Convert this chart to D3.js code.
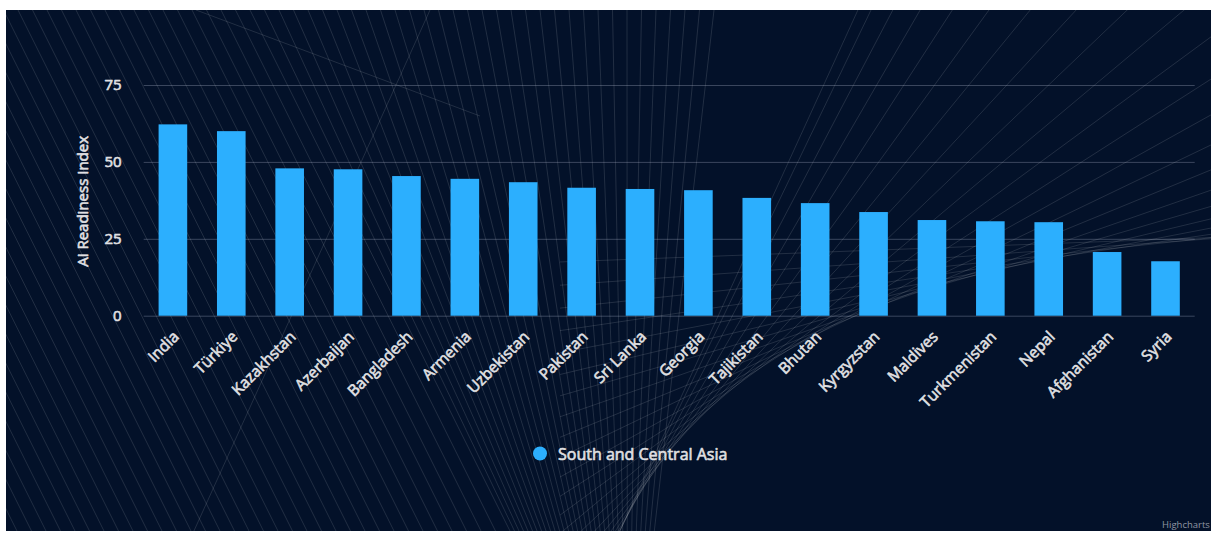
<!DOCTYPE html>
<html>
<head>
<meta charset="utf-8">
<script src="https://cdn.jsdelivr.net/npm/d3@7"></script>
<style>
  html, body { margin: 0; padding: 0; background: #ffffff; }
  svg { display: block; }
  text { font-family: "Open Sans", Lato, sans-serif; }
</style>
</head>
<body>
<svg id="chart" width="1216" height="533"></svg>
<script>
// AI readiness by country, South and Central Asia
const categories = ["India", "Türkiye", "Kazakhstan", "Azerbaijan", "Bangladesh", "Armenia",
  "Uzbekistan", "Pakistan", "Sri Lanka", "Georgia", "Tajikistan", "Bhutan", "Kyrgyzstan",
  "Maldives", "Turkmenistan", "Nepal", "Afghanistan", "Syria"];
const values = [62.2, 60.0, 47.9, 47.6, 45.4, 44.5, 43.4, 41.6, 41.2, 40.8, 38.3, 36.6,
  33.7, 31.1, 30.7, 30.4, 20.7, 17.7];
const yTicks = [0, 25, 50, 75];
const seriesName = "South and Central Asia";
const yTitle = "Ai Readiness Index";

const svg = d3.select("#chart");
const frame = { x: 6, y: 10, w: 1205, h: 521 };
const plot = { left: 143.7, right: 1194.7, top: 85, bottom: 315.7 };
const barColor = "#2caffe";
const textColor = "#e0e0e3";
const font = "'Open Sans', Lato, sans-serif";

// medium-weight text: regular face with a hairline outline in the same colour
function styleText(sel, size) {
  sel.attr("fill", textColor).attr("font-size", size).attr("font-weight", 400)
    .attr("font-family", font)
    .attr("stroke", textColor).attr("stroke-width", 0.6).attr("stroke-linejoin", "round");
}

// Dark panel
svg.append("defs").append("clipPath").attr("id", "frameClip")
  .append("rect").attr("x", frame.x).attr("y", frame.y).attr("width", frame.w).attr("height", frame.h);
svg.append("rect").attr("x", frame.x).attr("y", frame.y).attr("width", frame.w).attr("height", frame.h)
  .attr("fill", "#031129");

// Decorative string-art backdrop
const deco = svg.append("g").attr("clip-path", "url(#frameClip)")
  .attr("stroke", "#ffffff").attr("stroke-opacity", 0.12).attr("stroke-width", 1).attr("fill", "none");

// slanted family on the left, drawing together toward the bottom centre
for (let u = -330; u <= 720; u += 14.5) {
  const xb = u <= 250 ? u + 260 : 510 + 0.311 * (u - 250);
  deco.append("line").attr("x1", u).attr("y1", frame.y).attr("x2", xb).attr("y2", frame.y + frame.h);
}

// tangents to a quadratic curve sweeping up to the right edge
const P0 = [619, 533], P1 = [746, 255], P2 = [1280, 235];
const nTan = 22;
for (let i = 0; i <= nTan; i++) {
  const t = Math.pow(i / nTan, 1.4);
  const a = (1 - t) * (1 - t), b = 2 * (1 - t) * t, c = t * t;
  const bx = a * P0[0] + b * P1[0] + c * P2[0];
  const by = a * P0[1] + b * P1[1] + c * P2[1];
  const dx = (1 - t) * (P1[0] - P0[0]) + t * (P2[0] - P1[0]);
  const dy = (1 - t) * (P1[1] - P0[1]) + t * (P2[1] - P1[1]);
  const len = Math.hypot(dx, dy), ux = dx / len, uy = dy / len;
  const sDown = (bx - 560) / ux; // back along the line until x = 560
  deco.append("line")
    .attr("x1", bx - ux * sDown).attr("y1", by - uy * sDown)
    .attr("x2", bx + ux * 1600).attr("y2", by + uy * 1600);
}

// a pair of long accent lines
deco.append("line").attr("x1", 196).attr("y1", 10).attr("x2", 480).attr("y2", 116);
deco.append("line").attr("x1", 193).attr("y1", 533).attr("x2", 430).attr("y2", 10);

// Scales
const x = d3.scaleBand().domain(categories).range([plot.left, plot.right]).padding(0);
const y = d3.scaleLinear().domain([0, 75]).range([plot.bottom, plot.top]);
const barW = x.bandwidth() * 0.49;

// Gridlines and y labels
const yAxis = d3.axisLeft(y).tickValues(yTicks).tickSize(-(plot.right - plot.left)).tickPadding(22);
const gy = svg.append("g").attr("transform", `translate(${plot.left},0)`).call(yAxis);
gy.select(".domain").remove();
gy.selectAll(".tick line").attr("stroke", "#c8d2e6").attr("stroke-opacity", 0.28);
styleText(gy.selectAll(".tick text"), 15);

// Y axis title
styleText(svg.append("text")
  .attr("transform", `translate(88,${(plot.top + plot.bottom) / 2 + 1}) rotate(-90)`)
  .attr("text-anchor", "middle")
  .text(yTitle), 15);

// Bars
svg.append("g").selectAll("rect").data(values).join("rect")
  .attr("x", (d, i) => x(categories[i]) + (x.bandwidth() - barW) / 2)
  .attr("y", d => y(d))
  .attr("width", barW)
  .attr("height", d => y(0) - y(d))
  .attr("fill", barColor);

// X axis labels, rotated
const xAxis = d3.axisBottom(x).tickSize(0).tickPadding(0);
const gx = svg.append("g").attr("transform", `translate(0,${plot.bottom})`).call(xAxis);
gx.select(".domain").remove();
styleText(gx.selectAll(".tick text"), 15.5);
gx.selectAll(".tick text")
  .attr("text-anchor", "end").attr("dy", null)
  .attr("transform", "translate(7,22) rotate(-45)");

// Legend
const lg = svg.append("g");
lg.append("circle").attr("cx", 540).attr("cy", 453.5).attr("r", 7).attr("fill", barColor);
styleText(lg.append("text").attr("x", 558).attr("y", 459.5).text(seriesName), 16);

// Credit
svg.append("text").attr("x", 1162).attr("y", 528).attr("fill", "#8f96a3")
  .attr("font-size", 9.5).attr("font-family", font).text("Highcharts");
</script>
</body>
</html>
